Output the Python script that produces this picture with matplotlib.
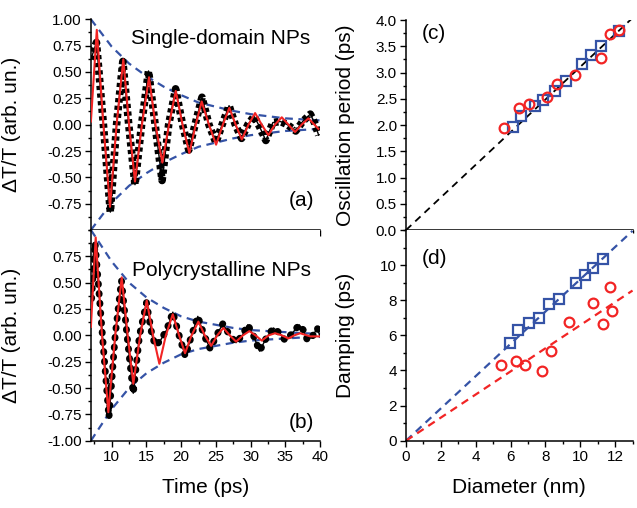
import matplotlib
matplotlib.use("Agg")
import matplotlib.pyplot as plt
from matplotlib.ticker import MultipleLocator, FixedLocator, FormatStrFormatter

plt.rcParams['font.family'] = ['Liberation Sans', 'DejaVu Sans']
plt.rcParams['axes.unicode_minus'] = False

# ---------------- data ----------------
# panel (a): single-domain NPs, measured signal (t in ps, dT/T)
a_data_t = [7.0, 7.8, 8.8, 9.8, 10.7, 11.6, 12.45, 13.35, 14.3, 15.3, 16.25, 17.25, 18.2,
            19.2, 20.2, 21.1, 22.0, 23.0, 24.0, 25.0, 25.9, 26.9, 27.8, 28.7, 29.6, 30.5,
            31.3, 32.2, 33.2, 34.3, 35.3, 36.5, 37.5, 38.6, 39.2, 39.8]
a_data_v = [0.62, 0.78, 0.0, -0.83, 0.0, 0.60, 0.0, -0.57, 0.0, 0.51, 0.0, -0.53, 0.0,
            0.34, 0.0, -0.24, 0.0, 0.26, 0.0, -0.17, 0.0, 0.18, 0.0, -0.13, 0.0, 0.08,
            -0.02, -0.15, 0.02, 0.03, 0.0, -0.06, 0.03, 0.10, 0.02, -0.10]
# panel (a): fit
a_fit_t = [7.0, 7.85, 8.8, 9.75, 10.7, 11.67, 12.5, 13.35, 14.35, 15.37, 16.3, 17.29, 18.25,
           19.22, 20.2, 21.18, 22.1, 22.96, 24.0, 25.03, 26.0, 26.94, 27.85, 28.73, 29.7,
           30.65, 31.6, 32.56, 33.5, 34.49, 35.45, 36.4, 37.35, 38.33, 39.77]
a_fit_v = [0.03, 0.90, 0.0, -0.78, 0.0, 0.62, 0.0, -0.54, 0.0, 0.45, 0.0, -0.36, 0.0,
           0.32, 0.0, -0.27, 0.0, 0.22, 0.0, -0.19, 0.0, 0.16, 0.0, -0.14, 0.0,
           0.11, 0.0, -0.10, 0.0, 0.07, 0.0, -0.07, 0.0, 0.06, -0.04]
# panel (a): envelope
a_env_t = [7.0, 10.0, 12.5, 15.0, 17.5, 20.0, 22.5, 25.0, 27.5, 30.0, 32.5, 35.0, 37.5, 40.0]
a_env_v = [1.0, 0.74, 0.58, 0.46, 0.36, 0.28, 0.21, 0.17, 0.13, 0.10, 0.08, 0.06, 0.05, 0.04]

# panel (b): polycrystalline NPs, measured signal
b_data_t = [7.1, 7.6, 8.6, 9.6, 10.5, 11.4, 12.2, 13.1, 14.0, 15.0, 15.8, 16.3, 17.0, 17.9,
            18.8, 19.7, 20.6, 21.5, 22.4, 23.3, 24.2, 25.1, 26.0, 27.0, 27.9, 28.8, 29.6,
            30.4, 31.3, 32.3, 33.3, 34.2, 35.0, 36.0, 37.0, 37.6, 38.2, 39.0, 39.6, 40.0]
b_data_v = [0.35, 0.88, 0.05, -0.78, 0.0, 0.52, 0.0, -0.55, 0.0, 0.31, 0.0, -0.10, -0.05, 0.05,
            0.22, 0.0, -0.20, 0.0, 0.18, 0.0, -0.13, 0.0, 0.11, 0.0, -0.07, 0.0, 0.10,
            0.0, -0.15, -0.02, 0.07, 0.02, -0.05, 0.02, 0.10, 0.05, -0.05, 0.0, 0.07, -0.01]
# panel (b): fit
b_fit_t = [7.0, 7.69, 8.6, 9.51, 10.5, 11.44, 12.3, 13.11, 14.1, 15.04, 15.95, 16.86, 17.8,
           18.79, 19.7, 20.56, 21.5, 22.48, 23.4, 24.31, 25.2, 26.08, 27.0, 27.91, 28.9,
           29.83, 30.7, 31.61, 32.6, 33.53, 34.5, 35.45, 36.3, 37.13, 38.6, 40.0]
b_fit_v = [0.08, 0.93, 0.0, -0.73, 0.0, 0.55, 0.0, -0.46, 0.0, 0.33, 0.0, -0.27, 0.0,
           0.20, 0.0, -0.17, 0.0, 0.13, 0.0, -0.10, 0.0, 0.07, 0.0, -0.06, 0.0,
           0.04, 0.0, -0.05, 0.0, 0.02, 0.0, -0.03, 0.0, 0.02, -0.01, -0.01]
# panel (b): envelope
b_env_t = [7.0, 10.0, 12.5, 15.0, 17.5, 20.0, 22.5, 25.0, 27.5, 30.0, 32.5, 35.0, 37.5, 40.0]
b_env_v = [1.0, 0.70, 0.50, 0.36, 0.26, 0.18, 0.13, 0.10, 0.07, 0.05, 0.04, 0.03, 0.02, 0.015]

# panel (c): oscillation period vs diameter
c_red_d = [5.63, 6.51, 7.06, 8.11, 8.65, 9.70, 11.18, 11.71, 12.21]
c_red_p = [1.94, 2.32, 2.40, 2.53, 2.79, 2.95, 3.28, 3.73, 3.81]
c_blue_d = [6.16, 6.62, 7.39, 7.88, 8.53, 9.17, 10.12, 10.62, 11.18, 12.24]
c_blue_p = [1.96, 2.18, 2.36, 2.48, 2.65, 2.84, 3.17, 3.34, 3.50, 3.80]
c_line_d = [0.0, 13.0]
c_line_p = [0.0, 4.04]

# panel (d): damping vs diameter
d_blue_d = [5.99, 6.41, 7.08, 7.62, 8.21, 8.80, 9.76, 10.28, 10.75, 11.29]
d_blue_g = [5.57, 6.33, 6.73, 6.99, 7.79, 8.08, 8.97, 9.41, 9.81, 10.33]
d_red_d = [5.47, 6.30, 6.83, 7.79, 8.30, 9.34, 10.75, 11.29, 11.71, 11.81]
d_red_g = [4.29, 4.55, 4.29, 3.96, 5.09, 6.77, 7.85, 6.65, 8.78, 7.41]
d_line_d = [0.0, 13.0]
d_blue_line = [0.0, 11.95]
d_red_line = [0.0, 8.55]

# ---------------- styling ----------------
RED = '#f22424'
BLUE = '#3553a6'
LAB = 15
TICK = 11

fig = plt.figure(figsize=(6.37, 5.08), dpi=100)
ax_a = fig.add_axes([0.1427, 0.5472, 0.3597, 0.4148])
ax_b = fig.add_axes([0.1427, 0.1325, 0.3597, 0.4148])
ax_c = fig.add_axes([0.6374, 0.5472, 0.3556, 0.4134])
ax_d = fig.add_axes([0.6374, 0.1325, 0.3556, 0.4148])

for ax in (ax_a, ax_b, ax_c, ax_d):
    for s in ('top', 'right'):
        ax.spines[s].set_visible(False)
    for s in ('left', 'bottom'):
        ax.spines[s].set_linewidth(1.1)
    ax.tick_params(which='major', direction='out', length=4.5, width=1.0, labelsize=TICK, pad=2)
    ax.tick_params(which='minor', direction='out', length=2.5, width=1.0)

env_style = dict(color=BLUE, lw=1.6, dashes=(3.5, 2.5))

# panel a
ax_a.plot(a_env_t, a_env_v, **env_style, zorder=1)
ax_a.plot(a_env_t, [-v for v in a_env_v], **env_style, zorder=1)
ax_a.plot(a_data_t, a_data_v, color='black', lw=5.5, dashes=(0.55, 0.45), solid_capstyle='butt',
          zorder=2)
ax_a.plot(a_data_t, a_data_v, color='black', lw=1.0, zorder=2)
ax_a.plot(a_fit_t, a_fit_v, color=RED, lw=1.5, zorder=3)
ax_a.set_xlim(7, 40)
ax_a.set_ylim(-1.0, 1.0)
ax_a.yaxis.set_major_locator(FixedLocator([-0.75, -0.5, -0.25, 0, 0.25, 0.5, 0.75, 1.0]))
ax_a.yaxis.set_minor_locator(MultipleLocator(0.125))
ax_a.xaxis.set_major_locator(MultipleLocator(5))
ax_a.xaxis.set_minor_locator(MultipleLocator(2.5))
ax_a.set_xticklabels([])
ax_a.yaxis.set_major_formatter(FormatStrFormatter('%.2f'))
ax_a.set_ylabel('ΔT/T (arb. un.)', fontsize=LAB)
ax_a.yaxis.set_label_coords(-0.305, 0.5)
ax_a.text(0.568, 0.91, 'Single-domain NPs', transform=ax_a.transAxes, fontsize=LAB,
          ha='center', va='center')
ax_a.text(0.975, 0.14, '(a)', transform=ax_a.transAxes, fontsize=LAB, ha='right', va='center')

# panel b
ax_b.plot(b_env_t, b_env_v, **env_style, zorder=1, clip_on=False)
ax_b.plot(b_env_t, [-v for v in b_env_v], **env_style, zorder=1)
ax_b.plot(b_data_t, b_data_v, color='black', lw=5, dashes=(0.1, 1.3), dash_capstyle='round',
          zorder=2)
ax_b.plot(b_data_t, b_data_v, color='black', lw=1.0, zorder=2)
ax_b.plot(b_fit_t, b_fit_v, color=RED, lw=1.5, zorder=3)
ax_b.set_xlim(7, 40)
ax_b.set_ylim(-1.0, 1.0)
ax_b.yaxis.set_major_locator(FixedLocator([-1.0, -0.75, -0.5, -0.25, 0, 0.25, 0.5, 0.75]))
ax_b.yaxis.set_minor_locator(MultipleLocator(0.125))
ax_b.xaxis.set_major_locator(MultipleLocator(5))
ax_b.xaxis.set_minor_locator(MultipleLocator(2.5))
ax_b.yaxis.set_major_formatter(FormatStrFormatter('%.2f'))
ax_b.set_ylabel('ΔT/T (arb. un.)', fontsize=LAB)
ax_b.yaxis.set_label_coords(-0.305, 0.5)
ax_b.set_xlabel('Time (ps)', fontsize=LAB, labelpad=10)
ax_b.text(0.568, 0.81, 'Polycrystalline NPs', transform=ax_b.transAxes, fontsize=LAB,
          ha='center', va='center')
ax_b.text(0.975, 0.085, '(b)', transform=ax_b.transAxes, fontsize=LAB, ha='right', va='center')

# panel c
ax_c.plot(c_line_d, c_line_p, color='black', lw=1.3, dashes=(4, 3), zorder=1)
ax_c.plot(c_red_d, c_red_p, ls='none', marker='o', ms=7, mfc='none', mec=RED, mew=1.6, zorder=3)
ax_c.plot(c_blue_d, c_blue_p, ls='none', marker='s', ms=6.5, mfc='none', mec=BLUE, mew=1.6,
          zorder=2)
ax_c.set_xlim(0, 13)
ax_c.set_ylim(0, 4.0)
ax_c.xaxis.set_major_locator(MultipleLocator(2))
ax_c.xaxis.set_minor_locator(MultipleLocator(1))
ax_c.yaxis.set_major_locator(MultipleLocator(0.5))
ax_c.yaxis.set_minor_locator(MultipleLocator(0.25))
ax_c.set_xticklabels([])
ax_c.yaxis.set_major_formatter(FormatStrFormatter('%.1f'))
ax_c.set_ylabel('Oscillation period (ps)', fontsize=LAB)
ax_c.yaxis.set_label_coords(-0.225, 0.5)
ax_c.text(0.07, 0.935, '(c)', transform=ax_c.transAxes, fontsize=LAB, ha='left', va='center')

# panel d
ax_d.plot(d_line_d, d_blue_line, color=BLUE, lw=1.6, dashes=(3.5, 2.5), zorder=1)
ax_d.plot(d_line_d, d_red_line, color=RED, lw=1.6, dashes=(3.5, 2.5), zorder=1)
ax_d.plot(d_blue_d, d_blue_g, ls='none', marker='s', ms=6.5, mfc='none', mec=BLUE, mew=1.6,
          zorder=2)
ax_d.plot(d_red_d, d_red_g, ls='none', marker='o', ms=7, mfc='none', mec=RED, mew=1.6, zorder=3)
ax_d.set_xlim(0, 13)
ax_d.set_ylim(0, 12)
ax_d.xaxis.set_major_locator(MultipleLocator(2))
ax_d.xaxis.set_minor_locator(MultipleLocator(1))
ax_d.yaxis.set_major_locator(FixedLocator([0, 2, 4, 6, 8, 10]))
ax_d.yaxis.set_minor_locator(MultipleLocator(1))
ax_d.set_ylabel('Damping (ps)', fontsize=LAB)
ax_d.yaxis.set_label_coords(-0.225, 0.5)
ax_d.set_xlabel('Diameter (nm)', fontsize=LAB, labelpad=10)
ax_d.text(0.07, 0.865, '(d)', transform=ax_d.transAxes, fontsize=LAB, ha='left', va='center')

fig.savefig('out.png', dpi=100)
